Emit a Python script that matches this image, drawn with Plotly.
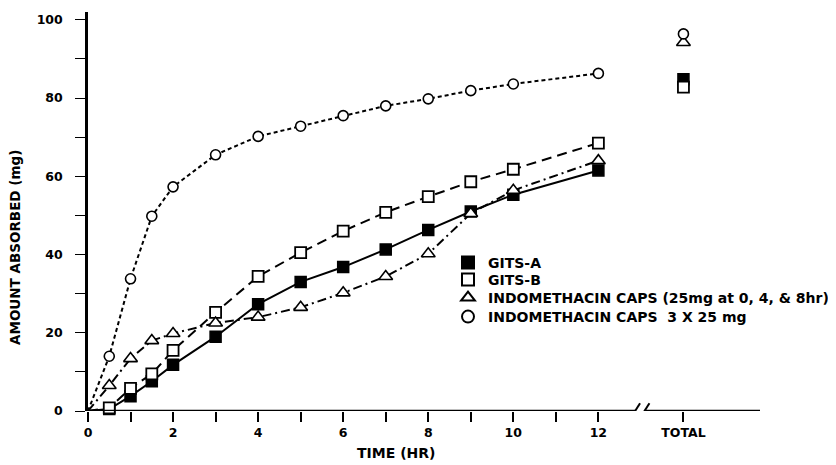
import plotly.graph_objects as go

# ---- data ----
hours = [0, 0.5, 1, 1.5, 2, 3, 4, 5, 6, 7, 8, 9, 10, 12]
gits_a = [0, 0.5, 3.8, 7.6, 11.8, 19.0, 27.3, 33.0, 36.8, 41.3, 46.3, 51.0, 55.3, 61.5]
gits_b = [0, 0.8, 5.8, 9.5, 15.5, 25.2, 34.4, 40.5, 46.0, 50.8, 54.8, 58.6, 61.8, 68.5]
caps_tid = [0, 6.5, 13.4, 18.0, 19.8, 22.5, 24.0, 26.5, 30.2, 34.4, 40.2, 50.5, 56.4, 64.0]
caps_3x = [0, 14.0, 33.8, 49.8, 57.3, 65.5, 70.2, 72.8, 75.5, 78.0, 79.8, 81.9, 83.6, 86.3]

total_pos = 14
totals = {"GITS-A": 84.8, "GITS-B": 82.8, "TID": 94.2, "3X": 96.4}

x_tickvals = [0, 1, 2, 3, 4, 5, 6, 7, 8, 9, 10, 11, 12, 14]
x_ticktext = ["0", "", "2", "", "4", "", "6", "", "8", "", "10", "", "12", "TOTAL"]
y_tickvals = [0, 20, 40, 60, 80, 100]

names = [
    "GITS-A",
    "GITS-B",
    "INDOMETHACIN CAPS (25mg at 0, 4, & 8hr)",
    "INDOMETHACIN CAPS  3 X 25 mg",
]

FONT = "DejaVu Sans"
series = [
    (names[0], gits_a, totals["GITS-A"], dict(symbol="square", size=11, color="black",
                                              line=dict(color="black", width=1.5)), "solid"),
    (names[1], gits_b, totals["GITS-B"], dict(symbol="square", size=11, color="white",
                                              line=dict(color="black", width=1.8)), "10px,6px"),
    (names[2], caps_tid, totals["TID"], dict(symbol="triangle-up", size=12, color="white",
                                             line=dict(color="black", width=1.6)), "9px,4px,2px,4px"),
    (names[3], caps_3x, totals["3X"], dict(symbol="circle", size=10, color="white",
                                           line=dict(color="black", width=1.6)), "4px,3px"),
]

# the page places the figure 8px in from the top-left corner
OFF = 8
W, H = 836 - OFF, 465 - OFF
L, R, T, B = 88 - OFF, 76, 12 - OFF, 54
PW, PH = W - L - R, H - T - B
legend_rows_px = [263, 280, 298, 317]
legend_ids = ["legend", "legend2", "legend3", "legend4"]


def px_x(px):
    return (px - OFF - L) / PW


def px_y(py):
    return (H - B - (py - OFF)) / PH


fig = go.Figure()
for name, ys, tot, mk, dash in series:
    fig.add_trace(go.Scatter(x=hours, y=ys, mode="lines", showlegend=False,
                             line=dict(color="black", width=2, dash=dash),
                             hoverinfo="skip", cliponaxis=False))
for i, (name, ys, tot, mk, dash) in enumerate(series):
    fig.add_trace(go.Scatter(x=hours[1:] + [total_pos], y=ys[1:] + [tot], mode="markers",
                             name=name, marker=mk, cliponaxis=False,
                             legend=legend_ids[i]))

shapes = [
    dict(type="line", xref="x", yref="y", x0=0, x1=12.88, y0=0, y1=0,
         line=dict(color="black", width=2.5)),
    dict(type="line", xref="x", yref="y", x0=13.1, x1=15.8, y0=0, y1=0,
         line=dict(color="black", width=2.5)),
    dict(type="line", xref="x", yref="y", x0=12.76, x1=12.98, y0=-1.8, y1=2.0,
         line=dict(color="black", width=2)),
    dict(type="line", xref="x", yref="y", x0=12.98, x1=13.2, y0=-1.8, y1=2.0,
         line=dict(color="black", width=2)),
]

legend_layouts = {}
for i, lid in enumerate(legend_ids):
    legend_layouts[lid] = dict(
        x=px_x(448), y=px_y(legend_rows_px[i]), xanchor="left", yanchor="middle",
        bgcolor="rgba(0,0,0,0)", font=dict(size=14, family=FONT, weight="bold"),
        itemsizing="constant")

fig.update_layout(
    width=W, height=H,
    margin=dict(l=L, r=R, t=T, b=B, autoexpand=False),
    paper_bgcolor="white", plot_bgcolor="white",
    font=dict(family=FONT, color="black", size=12, weight="bold"),
    shapes=shapes,
    showlegend=True,
    annotations=[
        dict(text="AMOUNT ABSORBED (mg)", textangle=-90, xref="paper", yref="paper",
             x=px_x(15), y=px_y(248), xanchor="center",
             yanchor="middle", showarrow=False,
             font=dict(size=13.5, family=FONT, weight="bold")),
        dict(text="TIME (HR)", xref="x", yref="paper", x=7.25, y=px_y(453),
             xanchor="center", yanchor="middle", showarrow=False,
             font=dict(size=14, family=FONT, weight="bold")),
    ],
    **legend_layouts,
)

fig.update_xaxes(range=[0, 15.8], showline=False, showgrid=False, zeroline=False,
                 automargin=False,
                 tickmode="array", tickvals=x_tickvals, ticktext=x_ticktext,
                 ticks="outside", ticklen=10, tickwidth=1.5, tickcolor="black",
                 tickfont=dict(size=12.5, family=FONT, weight="bold"))
fig.update_yaxes(range=[0, 102], showline=True, linewidth=2.5, linecolor="black",
                 showgrid=False, zeroline=False, automargin=False,
                 tickmode="array", tickvals=y_tickvals,
                 ticks="outside", ticklen=10, tickwidth=1, tickcolor="black",
                 ticklabelstandoff=10,
                 minor=dict(tickvals=[10, 30, 50, 70, 90], ticks="outside", ticklen=10,
                            tickwidth=1, tickcolor="black"),
                 tickfont=dict(size=12.5, family=FONT, weight="bold"))

fig.write_html("out.html")
